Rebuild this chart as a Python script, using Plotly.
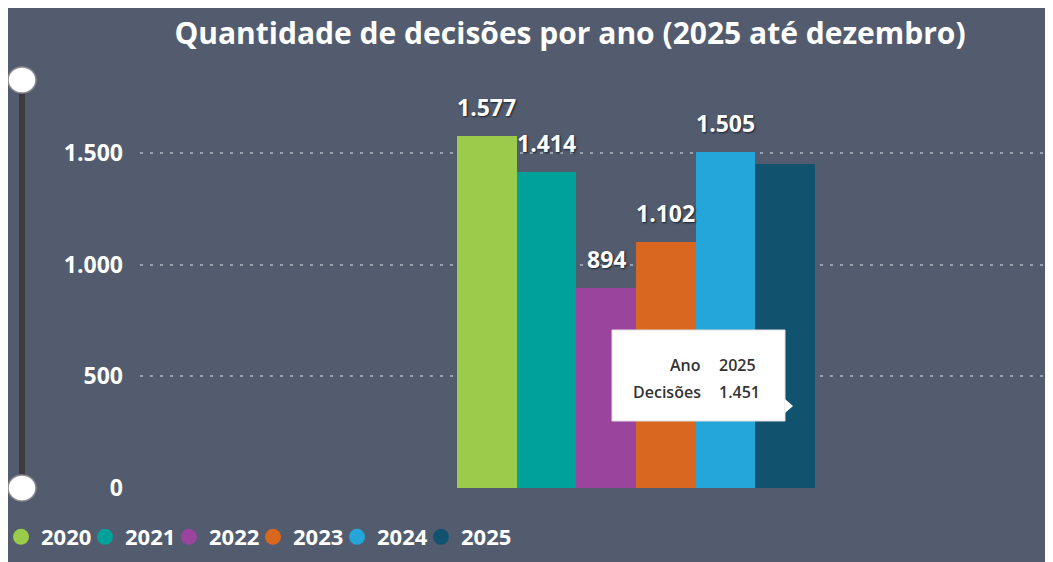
import plotly.graph_objects as go

# ---- data ----
years = ["2020", "2021", "2022", "2023", "2024", "2025"]
decisoes = [1577, 1414, 894, 1102, 1505, 1451]
show_label = [True, True, True, True, True, False]
colors = ["#9BCB4A", "#00A19A", "#9A449E", "#D9671F", "#25A6DB", "#11526E"]
y_ticks = [0, 500, 1000, 1500]
category = "Decisões"
tooltip_rows = [("Ano", "2025"), ("Decisões", "1.451")]
title_text = "Quantidade de decisões por ano (2025 até dezembro)"

# ---- layout geometry (figure pixels) ----
W, H = 1053, 562
ML, MR, MT, MB = 132, 0, 62, 82
PW, PH = W - ML - MR, H - MT - MB
BG = "#525C6E"
FONT = "Open Sans"


def px(x):
    return (x - ML) / PW


def py(y):
    return (H - MB - y) / PH


def fmt(v):
    return f"{v:,}".replace(",", ".")


fig = go.Figure()
for yr, v, c in zip(years, decisoes, colors):
    fig.add_trace(go.Bar(x=[category], y=[v], name=yr, marker_color=c,
                         marker_line_width=0, showlegend=False,
                         hoverinfo="skip"))
# legend entries with circular symbols
for yr, c in zip(years, colors):
    fig.add_trace(go.Scatter(x=[None], y=[None], mode="markers", name=yr,
                             marker=dict(color=c, size=16, symbol="circle"),
                             hoverinfo="skip"))
# spacer entry so the last legend label is not clipped
fig.add_trace(go.Scatter(x=[None], y=[None], mode="markers", name=" ",
                         marker=dict(color="rgba(0,0,0,0)", size=1),
                         hoverinfo="skip"))

n = len(years)
annotations = []
for i, (v, s) in enumerate(zip(decisoes, show_label)):
    if not s:
        continue
    annotations.append(dict(
        x=-0.5 + (i + 0.5) / n, y=v, xref="x", yref="y", text=fmt(v),
        showarrow=False, yshift=29,
        font=dict(family=FONT, size=23, color="white", weight=700,
                  shadow="1px 1px 2px #1a1f2a")))

# tooltip
tt_x0, tt_x1, tt_y0, tt_y1 = 604, 777, 322, 413
shapes = [
    # slider track
    dict(type="line", xref="paper", yref="paper", x0=px(14), x1=px(14),
         y0=py(72), y1=py(480), line=dict(color="#3c3c3c", width=6)),
    dict(type="circle", xref="paper", yref="paper", x0=px(0), x1=px(28),
         y0=py(85), y1=py(59), fillcolor="white",
         line=dict(color="#8a8a8a", width=1.5)),
    dict(type="circle", xref="paper", yref="paper", x0=px(0), x1=px(28),
         y0=py(493), y1=py(467), fillcolor="white",
         line=dict(color="#8a8a8a", width=1.5)),
    # tooltip box
    dict(type="rect", xref="paper", yref="paper", x0=px(tt_x0), x1=px(tt_x1),
         y0=py(tt_y1), y1=py(tt_y0), fillcolor="white",
         line=dict(color="#e0e0e0", width=1)),
    dict(type="path", xref="paper", yref="paper",
         path=f"M {px(777)} {py(391)} L {px(785)} {py(398)} L {px(777)} {py(405)} Z",
         fillcolor="white", line_width=0),
]
for k, (lab, val) in enumerate(tooltip_rows):
    yy = 357 + k * 27
    annotations.append(dict(x=px(695), y=py(yy), xref="paper", yref="paper",
                            text=lab, showarrow=False, xanchor="right",
                            yanchor="middle",
                            font=dict(family=FONT, size=16, color="#333333",
                                      weight=600)))
    annotations.append(dict(x=px(709), y=py(yy), xref="paper", yref="paper",
                            text=val, showarrow=False, xanchor="left",
                            yanchor="middle",
                            font=dict(family=FONT, size=16, color="#333333",
                                      weight=600)))

fig.update_layout(
    width=W, height=H,
    margin=dict(l=ML, r=MR, t=MT, b=MB, pad=0, autoexpand=False),
    paper_bgcolor=BG,
    plot_bgcolor=BG,
    separators=",.",
    barmode="group", bargap=0, bargroupgap=0,
    title=dict(text=title_text, x=562 / W, xanchor="center",
               y=1 - 25 / H, yanchor="middle",
               font=dict(family=FONT, size=30, color="white", weight=700)),
    xaxis=dict(range=[-1.3855, 1.187], showticklabels=False, showgrid=False,
               zeroline=False, showline=False, fixedrange=True,
               automargin=False),
    yaxis=dict(range=[0, PH / (335 / 1500)], tickvals=y_ticks,
               tickformat=",d", showgrid=True, griddash="3px,7px",
               gridcolor="#9AA1AE", gridwidth=2, zeroline=False,
               showline=False, ticks="", ticklabelstandoff=16,
               automargin=False,
               tickfont=dict(family=FONT, size=23, color="white", weight=700)),
    legend=dict(orientation="h", x=px(-7), xanchor="left", y=py(529),
                yanchor="middle", bgcolor="rgba(0,0,0,0)",
                font=dict(family=FONT, size=22, color="white", weight=700),
                itemwidth=30, tracegroupgap=0, entrywidth=39,
                entrywidthmode="pixels"),
    shapes=shapes,
    annotations=annotations,
)

fig.write_html("out.html")
